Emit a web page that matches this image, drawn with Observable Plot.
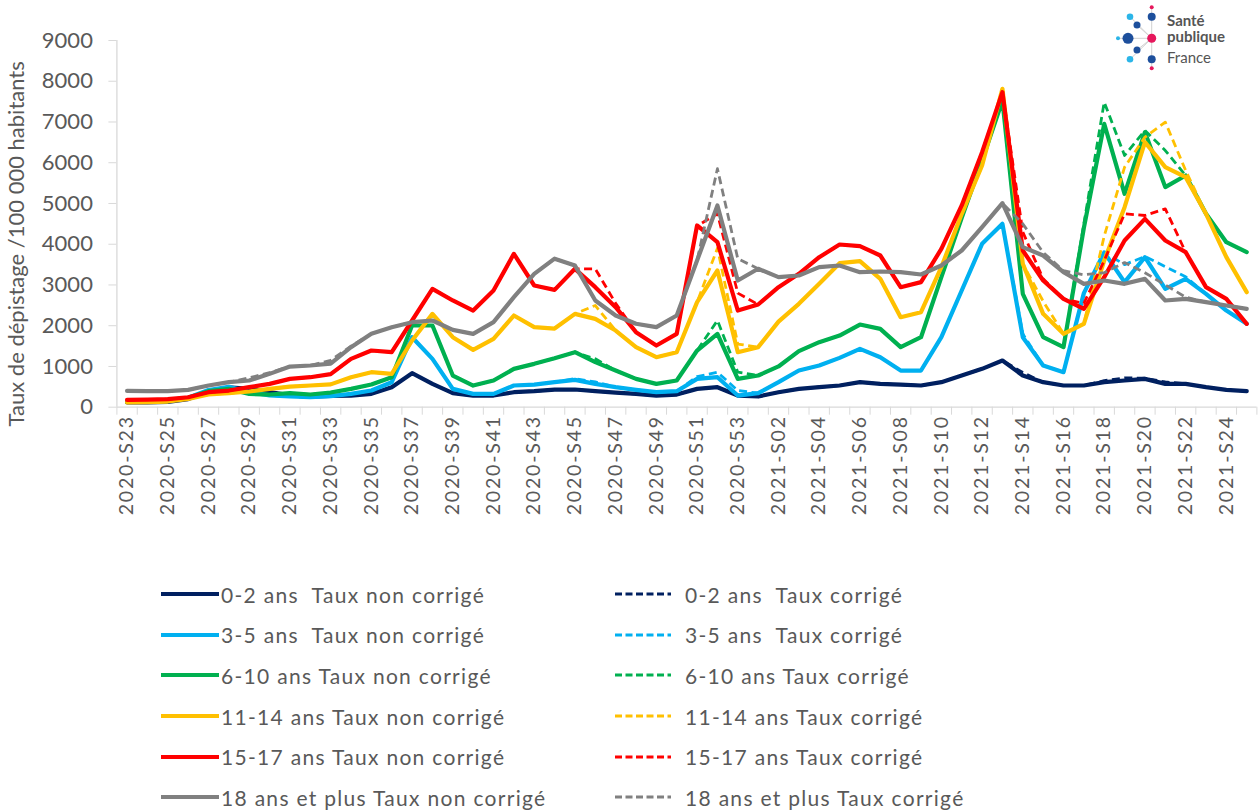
<!DOCTYPE html>
<html>
<head>
<meta charset="utf-8">
<script src="https://cdn.jsdelivr.net/npm/d3@7"></script>
<script src="https://cdn.jsdelivr.net/npm/@observablehq/plot@0.6"></script>
<style>
  body { margin: 0; background: #fff; }
  #wrap { position: relative; width: 1258px; height: 812px; font-family: Lato, sans-serif; color: #595959; }
  #chart { position: absolute; left: 0; top: 0; }
  #chart g[aria-label="x-axis tick label"] { letter-spacing: 1.8px; }
  #logo { position: absolute; left: 1100px; top: 0; }
  .leg { position: absolute; display: flex; align-items: center; font-size: 21px; letter-spacing: 1.3px; color: #595959; white-space: pre; }
</style>
</head>
<body>
<div id="wrap">
  <div id="chart"></div>
  <svg id="logo" width="158" height="80" viewBox="0 0 158 80">
    <g stroke="#d0d0d0" stroke-width="1">
      <line x1="51.7" y1="38.3" x2="51.7" y2="7.3"/>
      <line x1="51.7" y1="38.3" x2="30" y2="16.7"/>
      <line x1="51.7" y1="38.3" x2="37" y2="25"/>
      <line x1="51.7" y1="38.3" x2="18" y2="38.3"/>
      <line x1="51.7" y1="38.3" x2="37" y2="50"/>
      <line x1="51.7" y1="38.3" x2="30" y2="59.3"/>
      <line x1="51.7" y1="38.3" x2="51.7" y2="68.3"/>
    </g>
    <circle cx="51.7" cy="7.3" r="2" fill="#e6175c"/>
    <circle cx="51.7" cy="16.7" r="4" fill="#1d4f9c"/>
    <circle cx="30" cy="16.7" r="3.3" fill="#2bb5e8"/>
    <circle cx="37" cy="25" r="3.5" fill="#1d4f9c"/>
    <circle cx="28" cy="38.3" r="5.5" fill="#1d4f9c"/>
    <circle cx="18" cy="38.3" r="2" fill="#2bb5e8"/>
    <circle cx="51.7" cy="38.3" r="4.5" fill="#e6175c"/>
    <circle cx="37" cy="50" r="3.5" fill="#1d4f9c"/>
    <circle cx="30" cy="59.3" r="3.3" fill="#2bb5e8"/>
    <circle cx="51.7" cy="59.3" r="4" fill="#1d4f9c"/>
    <circle cx="51.7" cy="68.3" r="2" fill="#e6175c"/>
    <g font-family="Lato, sans-serif" fill="#555">
      <text x="67" y="26" font-size="15" font-weight="bold">Santé</text>
      <text x="67" y="42" font-size="15" font-weight="bold">publique</text>
      <text x="67" y="63" font-size="15">France</text>
    </g>
  </svg>
</div>
<script>
// Week categories (x axis)
const weeks = ["2020-S23","2020-S24","2020-S25","2020-S26","2020-S27","2020-S28","2020-S29","2020-S30","2020-S31","2020-S32",
  "2020-S33","2020-S34","2020-S35","2020-S36","2020-S37","2020-S38","2020-S39","2020-S40","2020-S41","2020-S42",
  "2020-S43","2020-S44","2020-S45","2020-S46","2020-S47","2020-S48","2020-S49","2020-S50","2020-S51","2020-S52",
  "2020-S53","2021-S01","2021-S02","2021-S03","2021-S04","2021-S05","2021-S06","2021-S07","2021-S08","2021-S09",
  "2021-S10","2021-S11","2021-S12","2021-S13","2021-S14","2021-S15","2021-S16","2021-S17","2021-S18","2021-S19",
  "2021-S20","2021-S21","2021-S22","2021-S23","2021-S24","2021-S25"];

// Y ticks
const yTicks = [0,1000,2000,3000,4000,5000,6000,7000,8000,9000];
const yTitle = "Taux de dépistage /100 000 habitants";

// Series values (taux pour 100 000 habitants)
const ans0_2_nc = [115,120,130,200,370,490,450,370,290,260,280,286,327,491,835,573,344,286,286,368,393,430,434,393,360,327,286,311,450,491,286,262,368,450,491,532,614,573,556,532,614,777,941,1146,777,614,532,532,614,655,696,573,573,491,426,393];
const ans0_2_c  = [115,120,130,200,370,490,450,370,290,260,280,286,327,491,835,573,344,286,286,368,393,430,434,393,360,327,286,311,450,491,286,262,368,450,491,532,614,573,556,532,614,777,941,1146,850,614,532,532,650,720,710,620,573,491,426,393];
const ans3_5_nc = [131,135,150,230,420,500,370,290,262,245,270,327,409,614,1718,1187,450,327,327,532,556,614,671,573,491,426,368,393,696,736,286,344,614,900,1023,1211,1432,1227,900,900,1718,2864,4010,4500,1718,1023,859,2800,3800,3069,3682,2905,3150,2782,2373,2046];
const ans3_5_c  = [131,135,150,230,420,500,370,290,262,245,270,327,409,614,1718,1187,450,327,327,532,556,614,700,620,491,426,368,393,750,859,409,344,614,900,1023,1211,1432,1227,900,900,1718,2864,4010,4500,1800,1023,859,2800,3800,3500,3700,3450,3200,2782,2373,2046];
const ans6_10_nc = [131,139,164,229,393,450,327,311,344,311,360,450,556,736,2005,2005,777,532,655,941,1064,1200,1350,1105,900,696,573,655,1391,1800,696,777,1000,1375,1596,1759,2029,1923,1473,1718,3191,4650,6055,7528,2782,1718,1473,4400,6956,5237,6751,5401,5687,4746,4050,3805];
const ans6_10_c  = [131,139,164,229,393,450,327,311,344,311,360,450,556,736,2005,2005,777,532,655,941,1064,1200,1350,1187,900,696,573,655,1391,2128,859,777,1000,1375,1596,1759,2029,1923,1473,1718,3191,4650,6055,7528,2782,1718,1473,4500,7487,6178,6792,6300,5687,4746,4050,3805];
const ans11_14_nc = [115,123,139,205,311,344,385,450,507,532,560,736,859,818,1637,2291,1718,1407,1678,2250,1964,1930,2291,2168,1882,1473,1227,1350,2578,3355,1350,1473,2100,2537,3028,3535,3584,3150,2209,2332,3437,4746,5933,7815,3519,2291,1800,2046,3600,4910,6505,5892,5646,4746,3682,2823];
const ans11_14_c  = [115,123,139,205,311,344,385,450,507,532,560,736,859,818,1637,2291,1718,1407,1678,2250,1964,1930,2291,2496,1882,1473,1227,1350,2578,3900,1550,1473,2100,2537,3028,3535,3584,3150,2209,2332,3437,4746,5933,7815,3519,2600,1800,2046,4200,5892,6628,6997,5810,4746,3682,2823];
const ans15_17_nc = [180,188,196,245,368,409,491,573,696,736,810,1187,1391,1350,2128,2905,2619,2373,2864,3764,2987,2880,3396,2946,2455,1841,1514,1800,4460,4050,2373,2520,2946,3273,3682,3993,3952,3723,2946,3069,3887,4951,6260,7733,3846,3110,2659,2414,3191,4092,4623,4092,3805,2946,2659,2046];
const ans15_17_c  = [180,188,196,245,368,409,491,573,696,736,810,1187,1391,1350,2128,2905,2619,2373,2864,3764,2987,2880,3396,3396,2550,1841,1514,1800,4450,4750,2800,2520,2946,3273,3682,3993,3952,3723,2946,3069,3887,4951,6260,7733,4300,3150,2659,2550,3600,4746,4705,4869,3805,2946,2659,2046];
const ans18p_nc = [400,393,393,425,532,614,655,818,998,1023,1070,1473,1800,1964,2087,2128,1898,1800,2087,2700,3273,3645,3479,2619,2251,2047,1964,2251,3600,4952,3110,3398,3192,3232,3437,3478,3314,3330,3314,3257,3478,3846,4419,5008,3928,3723,3314,3028,3110,3028,3150,2619,2659,2578,2496,2414];
const ans18p_c  = [400,393,393,425,532,614,720,850,998,1023,1150,1500,1800,1964,2087,2128,1898,1800,2087,2700,3273,3645,3479,2619,2251,2047,1964,2251,3600,5853,3643,3398,3192,3232,3437,3478,3314,3330,3314,3257,3478,3846,4419,5008,4500,3800,3350,3250,3300,3550,3300,3000,2700,2578,2496,2414];

const series = [
  {name: "0-2 ans  Taux non corrigé", values: ans0_2_nc, color: "#002060", dashed: false},
  {name: "0-2 ans  Taux corrigé", values: ans0_2_c, color: "#002060", dashed: true},
  {name: "3-5 ans  Taux non corrigé", values: ans3_5_nc, color: "#00B0F0", dashed: false},
  {name: "3-5 ans  Taux corrigé", values: ans3_5_c, color: "#00B0F0", dashed: true},
  {name: "6-10 ans Taux non corrigé", values: ans6_10_nc, color: "#00B050", dashed: false},
  {name: "6-10 ans Taux corrigé", values: ans6_10_c, color: "#00B050", dashed: true},
  {name: "11-14 ans Taux non corrigé", values: ans11_14_nc, color: "#FFC000", dashed: false},
  {name: "11-14 ans Taux corrigé", values: ans11_14_c, color: "#FFC000", dashed: true},
  {name: "15-17 ans Taux non corrigé", values: ans15_17_nc, color: "#FF0000", dashed: false},
  {name: "15-17 ans Taux corrigé", values: ans15_17_c, color: "#FF0000", dashed: true},
  {name: "18 ans et plus Taux non corrigé", values: ans18p_nc, color: "#808080", dashed: false},
  {name: "18 ans et plus Taux corrigé", values: ans18p_c, color: "#808080", dashed: true}
];

const SOLID_W = 4.2, DASH_W = 2.8, DASH = "8,4.5";

const boundaries = d3.range(weeks.length + 1).map(i => i - 0.5);
const labelIdx = d3.range(0, weeks.length, 2);

const lineMarks = series.map(s => Plot.line(
  s.values.map((v, i) => ({i, v})),
  {x: "i", y: "v", stroke: s.color,
   strokeWidth: s.dashed ? DASH_W : SOLID_W,
   strokeDasharray: s.dashed ? DASH : null,
   strokeLinejoin: "round", strokeLinecap: s.dashed ? "butt" : "round"}
));

const chart = Plot.plot({
  width: 1258, height: 530,
  marginTop: 40, marginBottom: 123.3, marginLeft: 116.4, marginRight: 1.6,
  style: {fontFamily: "Lato, sans-serif", color: "#595959", background: "transparent", overflow: "visible"},
  x: {domain: [-0.5, weeks.length - 0.5]},
  y: {domain: [0, 9000]},
  marks: [
    Plot.ruleX([-0.5], {stroke: "#d9d9d9", strokeWidth: 1.3}),
    Plot.ruleY([0], {stroke: "#d9d9d9", strokeWidth: 1.3}),
    Plot.axisY({ticks: yTicks, tickSize: 8, tickPadding: 16, fontSize: 22, tickFormat: d => String(d),
      label: null, stroke: "#d9d9d9", fill: "#595959"}),
    Plot.axisX({ticks: boundaries, tickSize: 8, tickFormat: () => "", label: null, stroke: "#d9d9d9"}),
    Plot.axisX({ticks: labelIdx, tickSize: 0, tickPadding: 8, tickRotate: -90, fontSize: 19.5,
      tickFormat: i => weeks[i], label: null, fill: "#595959"}),
    Plot.text([yTitle], {frameAnchor: "left", textAnchor: "middle", rotate: -90, dx: -100, dy: 20,
      fontSize: 22, fill: "#595959"}),
    ...lineMarks
  ]
});
document.getElementById("chart").appendChild(chart);

// Legend (two columns, row-wise order like the original)
const wrap = document.getElementById("wrap");
const rowY = [594, 634.5, 675, 716, 756.5, 797];
const colX = [161, 614];
const swW = [58, 69];
series.forEach((s, k) => {
  const row = Math.floor(k / 2), col = k % 2;
  const div = document.createElement("div");
  div.className = "leg";
  div.style.left = colX[col] + "px";
  div.style.top = (rowY[row] - 15) + "px";
  div.style.height = "30px";
  const sw = d3.create("svg").attr("width", swW[col]).attr("height", 10).style("margin-right", "2px");
  sw.append("line").attr("x1", 1).attr("x2", 57).attr("y1", 5).attr("y2", 5)
    .attr("stroke", s.color)
    .attr("stroke-width", s.dashed ? DASH_W : SOLID_W)
    .attr("stroke-dasharray", s.dashed ? "7,3.5" : null)
    .attr("stroke-linecap", s.dashed ? "butt" : "round");
  div.appendChild(sw.node());
  const span = document.createElement("span");
  span.textContent = s.name;
  div.appendChild(span);
  wrap.appendChild(div);
});
</script>
</body>
</html>
